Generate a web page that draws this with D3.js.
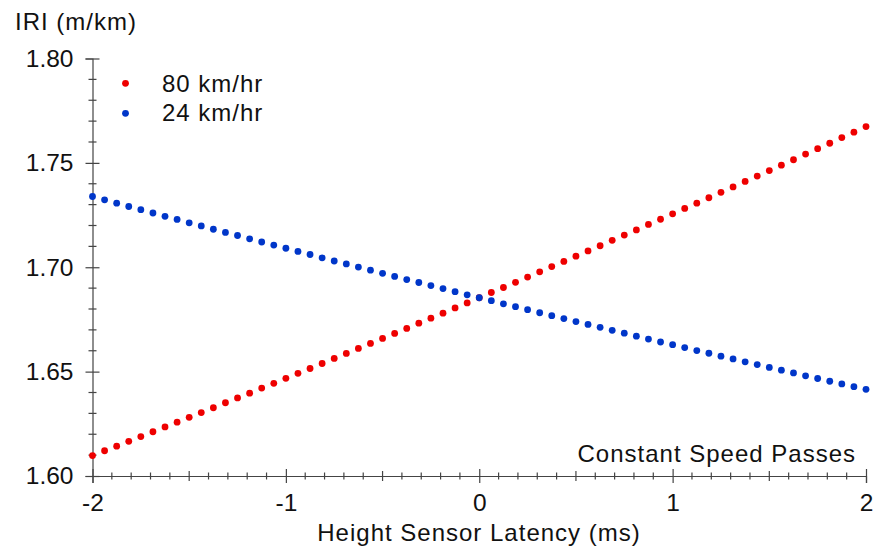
<!DOCTYPE html>
<html>
<head>
<meta charset="utf-8">
<script src="https://cdn.jsdelivr.net/npm/d3@7"></script>
<style>
  body { margin: 0; background: #fff; }
  text { font-family: "Liberation Sans", Arial, sans-serif; fill: #111; }
</style>
</head>
<body>
<div id="chart"></div>
<script>
// latency (ms) of each pass
var latency = [-2, -1.9375, -1.875, -1.8125, -1.75, -1.6875, -1.625, -1.5625, -1.5, -1.4375,
  -1.375, -1.3125, -1.25, -1.1875, -1.125, -1.0625, -1, -0.9375, -0.875, -0.8125,
  -0.75, -0.6875, -0.625, -0.5625, -0.5, -0.4375, -0.375, -0.3125, -0.25, -0.1875,
  -0.125, -0.0625, 0, 0.0625, 0.125, 0.1875, 0.25, 0.3125, 0.375, 0.4375,
  0.5, 0.5625, 0.625, 0.6875, 0.75, 0.8125, 0.875, 0.9375, 1, 1.0625,
  1.125, 1.1875, 1.25, 1.3125, 1.375, 1.4375, 1.5, 1.5625, 1.625, 1.6875,
  1.75, 1.8125, 1.875, 1.9375, 2];

// IRI at 80 km/hr
var iri80 = [1.6098, 1.6121, 1.6143, 1.6166, 1.6189, 1.6212, 1.6235, 1.6258, 1.6281, 1.6304,
  1.6327, 1.6351, 1.6374, 1.6397, 1.6421, 1.6444, 1.6468, 1.6492, 1.6515, 1.6539,
  1.6563, 1.6587, 1.6611, 1.6635, 1.6659, 1.6683, 1.6707, 1.6732, 1.6756, 1.6780,
  1.6805, 1.6829, 1.6854, 1.6879, 1.6903, 1.6928, 1.6953, 1.6978, 1.7003, 1.7028,
  1.7053, 1.7078, 1.7103, 1.7129, 1.7154, 1.7179, 1.7205, 1.7230, 1.7256, 1.7282,
  1.7307, 1.7333, 1.7359, 1.7385, 1.7411, 1.7437, 1.7463, 1.7489, 1.7515, 1.7542,
  1.7568, 1.7594, 1.7621, 1.7647, 1.7674];

// IRI at 24 km/hr
var iri24 = [1.7339, 1.7323, 1.7307, 1.7291, 1.7276, 1.7260, 1.7244, 1.7229, 1.7213, 1.7198,
  1.7182, 1.7167, 1.7152, 1.7136, 1.7121, 1.7106, 1.7091, 1.7076, 1.7061, 1.7045,
  1.7030, 1.7016, 1.7001, 1.6986, 1.6971, 1.6956, 1.6941, 1.6927, 1.6912, 1.6898,
  1.6883, 1.6868, 1.6854, 1.6840, 1.6825, 1.6811, 1.6797, 1.6782, 1.6768, 1.6754,
  1.6740, 1.6726, 1.6712, 1.6698, 1.6684, 1.6670, 1.6656, 1.6642, 1.6629, 1.6615,
  1.6601, 1.6588, 1.6574, 1.6561, 1.6547, 1.6534, 1.6520, 1.6507, 1.6494, 1.6480,
  1.6467, 1.6454, 1.6441, 1.6428, 1.6415];

var seriesNames = ["80 km/hr", "24 km/hr"];
var seriesColors = ["#ee0000", "#0036c9"];
var xTickLabels = [-2, -1, 0, 1, 2];
var yTickLabels = [1.60, 1.65, 1.70, 1.75, 1.80];

var width = 875, height = 549;
var margin = {top: 58.5, right: 9, bottom: 73, left: 92.5};

var svg = d3.select("#chart")
    .append("svg")
    .attr("width", width)
    .attr("height", height);

var x = d3.scaleLinear()
    .domain([-2, 2])
    .range([margin.left, width - margin.right]);

var y = d3.scaleLinear()
    .domain([1.60, 1.80])
    .range([height - margin.bottom, margin.top]);

var axisColor = "#444";

// y axis: crossing ticks, minor every 0.01
var yAxis = svg.append("g")
    .attr("transform", "translate(" + x(-2) + ",0)")
    .call(d3.axisLeft(y).tickValues(yTickLabels).tickFormat(d3.format(".2f")).tickSize(7).tickPadding(12));
yAxis.select(".domain").attr("stroke", axisColor).attr("stroke-width", 1.2);
yAxis.selectAll(".tick line").attr("x2", 7).attr("x1", -7).attr("stroke", axisColor).attr("stroke-width", 1.2);
yAxis.selectAll(".tick text").attr("font-size", "24.5px").attr("font-family", "Liberation Sans, Arial, sans-serif").attr("fill", "#111");

var yMinor = d3.range(1.60, 1.8001, 0.01).filter(function(v){ return Math.round(v * 100) % 5 != 0; });
yAxis.selectAll(".minor")
    .data(yMinor)
    .enter()
    .append("line")
      .attr("x1", -4).attr("x2", 4)
      .attr("y1", function(d){ return y(d); })
      .attr("y2", function(d){ return y(d); })
      .attr("stroke", axisColor)
      .attr("stroke-width", 1.2);

// x axis (plain hyphen for negatives)
var xAxis = svg.append("g")
    .attr("transform", "translate(0," + y(1.60) + ")")
    .call(d3.axisBottom(x).tickValues(xTickLabels).tickFormat(function(d){ return String(d); }).tickSize(7).tickPadding(11));
xAxis.select(".domain").attr("stroke", axisColor).attr("stroke-width", 1.2);
xAxis.selectAll(".tick line").attr("y1", -7).attr("y2", 7).attr("stroke", axisColor).attr("stroke-width", 1.2);
xAxis.selectAll(".tick text").attr("font-size", "24.5px").attr("font-family", "Liberation Sans, Arial, sans-serif").attr("fill", "#111");

var xMinor = d3.range(-20, 21).filter(function(v){ return v % 10 != 0; });
xAxis.selectAll(".minor")
    .data(xMinor)
    .enter()
    .append("line")
      .attr("x1", function(d){ return x(d / 10); })
      .attr("x2", function(d){ return x(d / 10); })
      .attr("y1", function(d){ return d % 5 == 0 ? -5 : -3.5; })
      .attr("y2", function(d){ return d % 5 == 0 ? 5 : 3.5; })
      .attr("stroke", axisColor)
      .attr("stroke-width", 1.2);

// dots
var series = [iri80, iri24];
series.forEach(function(vals, k){
  svg.append("g")
    .selectAll("circle")
    .data(vals)
    .enter()
    .append("circle")
      .attr("cx", function(d, i){ return x(latency[i]); })
      .attr("cy", function(d){ return y(d); })
      .attr("r", 3.4)
      .attr("fill", seriesColors[k]);
});

// legend
var legend = svg.append("g");
seriesNames.forEach(function(name, k){
  legend.append("circle")
    .attr("cx", 125.5)
    .attr("cy", 83.3 + k * 30)
    .attr("r", 3.4)
    .attr("fill", seriesColors[k]);
  legend.append("text")
    .attr("x", 162)
    .attr("y", 91.5 + k * 29.5)
    .attr("font-size", "24px")
    .attr("letter-spacing", "1px")
    .text(name);
});

// titles
svg.append("text")
    .attr("x", 15)
    .attr("y", 29.5)
    .attr("font-size", "24px")
    .attr("letter-spacing", "1px")
    .text("IRI (m/km)");

svg.append("text")
    .attr("x", 479)
    .attr("y", 541)
    .attr("text-anchor", "middle")
    .attr("font-size", "24px")
    .attr("letter-spacing", "1px")
    .text("Height Sensor Latency (ms)");

svg.append("text")
    .attr("x", 856)
    .attr("y", 461.5)
    .attr("text-anchor", "end")
    .attr("font-size", "24px")
    .attr("letter-spacing", "1px")
    .text("Constant Speed Passes");
</script>
</body>
</html>
